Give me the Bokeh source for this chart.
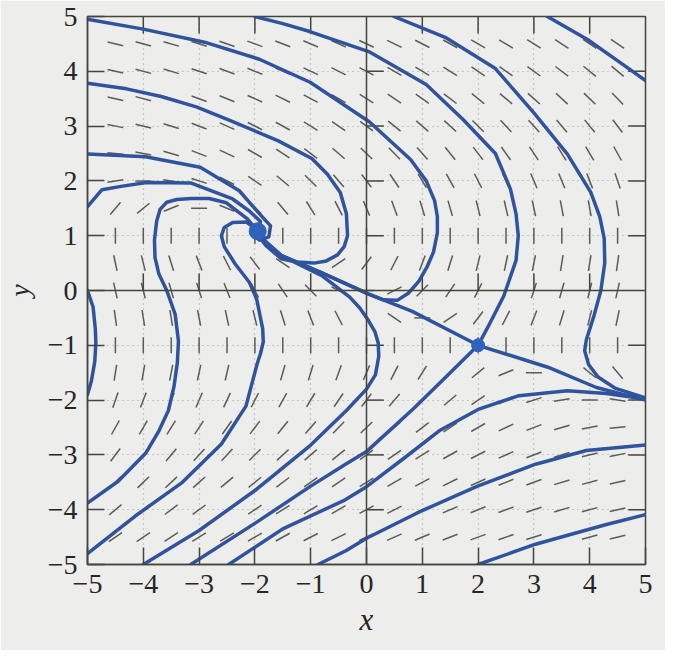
import numpy as np
from bokeh.plotting import figure
from bokeh.models import Range1d, FixedTicker, Span
from bokeh.embed import file_html
from bokeh.resources import INLINE

# ---------------- axes ----------------
tick_values = [-5, -4, -3, -2, -1, 0, 1, 2, 3, 4, 5]
tick_labels = ["\u22125", "\u22124", "\u22123", "\u22122", "\u22121", "0", "1", "2", "3", "4", "5"]

# ---------------- direction field (dash angles in degrees, read row by row) ----------------
field_x = [-4.5, -4.0, -3.5, -3.0, -2.5, -2.0, -1.5, -1.0, -0.5, 0.0, 0.5, 1.0, 1.5, 2.0, 2.5, 3.0, 3.5, 4.0, 4.5]
field_y = [4.5, 4.0, 3.5, 3.0, 2.5, 2.0, 1.5, 1.0, 0.5, 0.0, -0.5, -1.0, -1.5, -2.0, -2.5, -3.0, -3.5, -4.0, -4.5]
ang_y45 = [-13, -15, -16, -17, -19, -20, -21, -23, -24, -25, -26, -27, -29, -30, -31, -32, -33, -34, -35]
ang_y40 = [-13, -15, -17, -18, -20, -22, -23, -25, -27, -28, -30, -31, -32, -34, -35, -36, -37, -39, -40]
ang_y35 = [-13, -15, -17, -20, -22, -24, -26, -28, -30, -32, -34, -35, -37, -39, -40, -42, -43, -44, -46]
ang_y30 = [-11, -14, -17, -21, -24, -27, -29, -32, -35, -37, -39, -41, -43, -45, -47, -48, -50, -51, -53]
ang_y25 = [-5, -11, -16, -21, -25, -30, -34, -37, -41, -44, -46, -49, -51, -53, -55, -57, -58, -60, -61]
ang_y20 = [9, 0, -9, -18, -27, -34, -40, -45, -49, -53, -56, -59, -61, -63, -65, -67, -68, -69, -71]
ang_y15 = [50, 39, 22, 0, -22, -39, -50, -58, -63, -67, -70, -73, -74, -76, -77, -78, -79, -80, -81]
ang_y10 = [90, 90, 90, 90, 90, 90, 90, 90, 90, 90, 90, 90, 90, 90, 90, 90, 90, 90, 90]
ang_y05 = [-78, -76, -73, -69, -63, -53, -34, 0, 34, 53, 63, 69, 73, 76, 78, 79, 81, 81, 82]
ang_y00 = [-77, -76, -74, -72, -68, -63, -56, -45, -27, 0, 27, 45, 56, 63, 68, 72, 74, 76, 77]
ang_ym05 = [-82, -81, -81, -79, -78, -76, -73, -69, -63, -53, -34, 0, 34, 53, 63, 69, 73, 76, 78]
ang_ym10 = [90, 90, 90, 90, 90, 90, 90, 90, 90, 90, 90, 90, 90, 90, 90, 90, 90, 90, 90]
ang_ym15 = [81, 80, 79, 78, 77, 76, 74, 73, 70, 67, 63, 58, 50, 39, 22, 0, -22, -39, -50]
ang_ym20 = [71, 69, 68, 67, 65, 63, 61, 59, 56, 53, 49, 45, 40, 34, 27, 18, 9, 0, -9]
ang_ym25 = [61, 60, 58, 57, 55, 53, 51, 49, 46, 44, 41, 37, 34, 30, 25, 21, 16, 11, 5]
ang_ym30 = [53, 51, 50, 48, 47, 45, 43, 41, 39, 37, 35, 32, 29, 27, 24, 21, 17, 14, 11]
ang_ym35 = [46, 44, 43, 42, 40, 39, 37, 35, 34, 32, 30, 28, 26, 24, 22, 20, 17, 15, 13]
ang_ym40 = [40, 39, 37, 36, 35, 34, 32, 31, 30, 28, 27, 25, 23, 22, 20, 18, 17, 15, 13]
ang_ym45 = [35, 34, 33, 32, 31, 30, 29, 27, 26, 25, 24, 23, 21, 20, 19, 17, 16, 15, 13]
dash_angle_rows = [ang_y45, ang_y40, ang_y35, ang_y30, ang_y25, ang_y20, ang_y15, ang_y10, ang_y05,
                   ang_y00, ang_ym05, ang_ym10, ang_ym15, ang_ym20, ang_ym25, ang_ym30, ang_ym35,
                   ang_ym40, ang_ym45]

# ---------------- trajectories ----------------
traj_a_x = [-2.0, -1.5, -1.03, 0.04, 1.07, 1.73, 2.31, 2.58, 2.68, 2.72, 2.68, 2.46, 2.2, 2.0]
traj_a_y = [5.0, 4.87, 4.73, 4.36, 3.76, 3.12, 2.5, 1.85, 1.4, 1.0, 0.55, -0.1, -0.62, -1.0]
traj_b_x = [-5.0, -4.0, -2.86, -1.92, -1.01, 0.05, 0.79, 1.07, 1.22, 1.27, 1.27, 1.2, 1.08, 0.94, 0.75, 0.55, 0.3, 0.03, -0.8, -1.53, -1.95]
traj_b_y = [4.95, 4.77, 4.52, 4.22, 3.8, 3.08, 2.39, 2.0, 1.64, 1.35, 1.05, 0.7, 0.42, 0.17, -0.05, -0.18, -0.17, -0.06, 0.32, 0.64, 1.02]
traj_c_x = [-5.0, -4.3, -3.68, -3.05, -2.44, -1.58, -0.98, -0.7, -0.47, -0.36, -0.34, -0.4, -0.52, -0.72, -0.94, -1.25, -1.53, -1.8, -1.95]
traj_c_y = [3.78, 3.68, 3.54, 3.35, 3.1, 2.73, 2.41, 2.12, 1.79, 1.4, 1.0, 0.8, 0.65, 0.54, 0.5, 0.52, 0.58, 0.82, 1.02]
traj_g_x = [-5.0, -3.96, -2.98, -2.28, -1.9, -1.72, -1.75, -1.92, -2.02]
traj_g_y = [2.49, 2.44, 2.25, 1.82, 1.38, 1.18, 0.98, 0.92, 1.02]
traj_h_x = [-5.0, -4.74, -4.4, -3.94, -3.14, -2.4, -2.1, -1.9, -1.95]
traj_h_y = [1.53, 1.84, 1.9, 1.97, 1.96, 1.67, 1.45, 1.26, 1.08]
traj_e_x = [-1.95, -2.14, -2.51, -2.82, -3.14, -3.4, -3.58, -3.7, -3.76, -3.8, -3.79, -3.72, -3.58, -3.43, -3.37, -3.39, -3.45, -3.55, -3.73, -3.95, -4.45, -5.0]
traj_e_y = [1.08, 1.31, 1.6, 1.68, 1.68, 1.66, 1.61, 1.48, 1.27, 0.92, 0.6, 0.3, 0.0, -0.43, -0.92, -1.32, -1.75, -2.19, -2.58, -2.96, -3.48, -3.88]
traj_d_x = [-1.95, -2.15, -2.4, -2.55, -2.6, -2.55, -2.35, -2.1, -1.97, -1.91, -1.86, -1.85, -1.9, -1.96, -2.16, -2.6, -3.3, -4.15, -5.0]
traj_d_y = [1.1, 1.25, 1.24, 1.15, 1.0, 0.8, 0.48, 0.15, -0.15, -0.45, -0.7, -0.94, -1.15, -1.34, -2.11, -2.8, -3.5, -4.12, -4.8]
traj_f_x = [-5.0, -4.9, -4.86, -4.85, -4.87, -4.93, -5.0]
traj_f_y = [0.0, -0.3, -0.7, -0.95, -1.3, -1.65, -1.9]
traj_l1_x = [-4.0, -3.0, -2.0, -1.0, -0.36, 0.0, 0.16, 0.22, 0.21, 0.15, 0.03, -0.12, -0.3, -0.8, -1.5, -1.95]
traj_l1_y = [-5.0, -4.38, -3.65, -2.82, -2.19, -1.8, -1.54, -1.2, -0.96, -0.75, -0.54, -0.32, -0.12, 0.27, 0.62, 0.98]
traj_l2_x = [-3.15, -2.0, -1.0, -0.39, 0.0, 0.85, 1.45, 2.0]
traj_l2_y = [-5.0, -4.25, -3.57, -3.18, -2.94, -2.15, -1.55, -1.0]
traj_l3_x = [-2.47, -1.5, -0.38, 0.0, 0.66, 1.32, 2.0, 2.73, 3.6, 4.3, 5.0]
traj_l3_y = [-5.0, -4.35, -3.82, -3.58, -3.07, -2.55, -2.17, -1.92, -1.83, -1.88, -1.98]
traj_l4_x = [-0.87, -0.37, 0.0, 0.99, 1.99, 3.03, 3.94, 5.0]
traj_l4_y = [-5.0, -4.75, -4.52, -4.02, -3.57, -3.17, -2.92, -2.82]
traj_l5_x = [2.0, 3.03, 3.59, 4.3, 5.0]
traj_l5_y = [-5.0, -4.63, -4.47, -4.27, -4.09]
traj_u_x = [-1.95, -1.53, -0.8, 0.03, 0.82, 2.0, 3.25, 4.12, 5.0]
traj_u_y = [1.02, 0.64, 0.32, -0.06, -0.38, -1.0, -1.4, -1.77, -2.0]
traj_r1_x = [0.49, 1.41, 2.31, 3.0, 3.6, 4.02, 4.18, 4.26, 4.27, 4.2, 4.08, 3.94, 3.91, 3.98, 4.15, 4.45, 5.0]
traj_r1_y = [5.0, 4.62, 4.05, 3.24, 2.49, 1.79, 1.35, 0.95, 0.5, 0.0, -0.45, -0.9, -1.1, -1.35, -1.58, -1.78, -1.96]
traj_r2_x = [3.24, 3.96, 4.63, 5.0]
traj_r2_y = [5.0, 4.58, 4.1, 3.83]

# equilibria: spiral and saddle
eq_x = [-1.95, 2.0]
eq_y = [1.08, -1.0]

# ---------------- styling ----------------
BG = "#ededeb"
FRAME = "#45453c"
DASH = "#5c5c56"
BLUE = "#2f539c"
DOT = "#2f62bd"
TEXT = "#262626"
FONT = "Liberation Serif"

p = figure(frame_width=558, frame_height=548, x_range=Range1d(-5, 5), y_range=Range1d(-5, 5),
           output_backend="svg", toolbar_location=None,
           min_border_left=84, min_border_right=20, min_border_top=16, min_border_bottom=86,
           background_fill_color=BG, border_fill_color=BG,
           outline_line_color=FRAME, outline_line_width=1.5)

overrides = dict(zip(tick_values, tick_labels))
for ax in (p.xaxis[0], p.yaxis[0]):
    ax.ticker = FixedTicker(ticks=tick_values)
    ax.major_label_overrides = overrides
    ax.major_tick_in = 17
    ax.major_tick_out = 0
    ax.minor_tick_line_color = None
    ax.axis_line_color = FRAME
    ax.axis_line_width = 1.5
    ax.major_tick_line_color = FRAME
    ax.major_tick_line_width = 1.5
    ax.major_label_text_font = FONT
    ax.major_label_text_font_size = "28px"
    ax.major_label_text_color = TEXT
    ax.major_label_standoff = 10
    ax.axis_label_text_font = FONT
    ax.axis_label_text_font_style = "italic"
    ax.axis_label_text_color = TEXT

p.xaxis.axis_label = "x"
p.xaxis.axis_label_text_font_size = "31px"
p.xaxis.axis_label_standoff = 6
p.yaxis.axis_label = "y"
p.yaxis.axis_label_text_font_size = "28px"
p.yaxis.axis_label_standoff = 10

for g in (p.xgrid[0], p.ygrid[0]):
    g.ticker = FixedTicker(ticks=tick_values)
    g.grid_line_color = "#9e9e9a"
    g.grid_line_dash = "1 4"
    g.grid_line_width = 1.2

# direction field
fx, fy, fa = [], [], []
for yv, row in zip(field_y, dash_angle_rows):
    for xv, a in zip(field_x, row):
        fx.append(xv)
        fy.append(yv)
        fa.append(np.radians(a))
p.scatter(fx, fy, marker="dash", size=16, angle=fa, line_color=DASH, line_width=1.5)

# axes through origin, with their inward ticks, and ticks on the top and right frame edges
p.add_layout(Span(location=0, dimension="height", line_color=FRAME, line_width=1.5))
p.add_layout(Span(location=0, dimension="width", line_color=FRAME, line_width=1.5))
inner = [t for t in tick_values if 0 < abs(t) < 5]
x_hi = tick_values[-1]
tick_len = 0.31
zeros = [0] * len(inner)
p.segment(x0=zeros, y0=inner, x1=[tick_len] * len(inner), y1=inner, line_color=FRAME, line_width=1.5)
p.segment(x0=inner, y0=zeros, x1=inner, y1=[tick_len] * len(inner), line_color=FRAME, line_width=1.5)
p.segment(x0=inner, y0=[x_hi] * len(inner), x1=inner, y1=[x_hi - tick_len] * len(inner), line_color=FRAME, line_width=1.5)
p.segment(x0=[x_hi] * len(inner), y0=inner, x1=[x_hi - tick_len] * len(inner), y1=inner, line_color=FRAME, line_width=1.5)

# trajectories
trajectories = [
    (traj_a_x, traj_a_y), (traj_b_x, traj_b_y), (traj_c_x, traj_c_y), (traj_g_x, traj_g_y),
    (traj_h_x, traj_h_y), (traj_e_x, traj_e_y), (traj_d_x, traj_d_y), (traj_f_x, traj_f_y),
    (traj_l1_x, traj_l1_y), (traj_l2_x, traj_l2_y), (traj_l3_x, traj_l3_y), (traj_l4_x, traj_l4_y),
    (traj_l5_x, traj_l5_y), (traj_u_x, traj_u_y), (traj_r1_x, traj_r1_y), (traj_r2_x, traj_r2_y),
]
for tx, ty in trajectories:
    p.line(tx, ty, line_color=BLUE, line_width=3.5, line_join="round", line_cap="round")

p.scatter(eq_x, eq_y, size=[17, 13], fill_color=DOT, line_color=DOT)

open("out.html", "w").write(file_html(p, INLINE))
